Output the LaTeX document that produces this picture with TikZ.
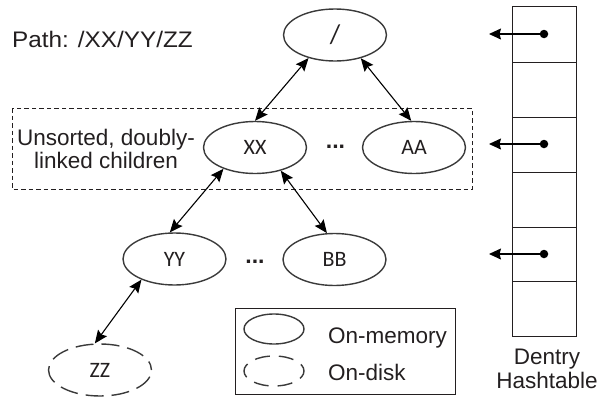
\documentclass[tikz,border=0pt]{standalone}
\usepackage{fontspec}
\setmainfont{Liberation Sans}
\newfontfamily\labelfont{Carlito}
\newfontfamily\pathfont[FakeStretch=1.08]{Liberation Sans}
\usetikzlibrary{shapes.geometric,arrows.meta}
\definecolor{ink}{HTML}{231F20}
\definecolor{edgegray}{HTML}{3A3A3A}
\tikzset{
  mem/.style={ellipse, draw=edgegray, line width=1.4pt, minimum width=103pt,
    minimum height=52pt, inner sep=0pt, text=ink,
    font=\labelfont\fontsize{22}{22}\selectfont},
  disk/.style={mem, dash pattern=on 18pt off 8pt, dash phase=9pt},
  link/.style={{Stealth[length=13pt,width=11pt,inset=2pt]}-{Stealth[length=13pt,width=11pt,inset=2pt]}, line width=1.1pt, black},
  ptr/.style={-{Stealth[length=12pt,width=11pt,inset=1.5pt]}, line width=1.1pt, black},
  txt/.style={text=ink, inner sep=0pt, font=\fontsize{22.5}{23.5}\selectfont},
  ellip/.style={text=ink, inner sep=0pt, font=\bfseries\fontsize{23}{23}\selectfont},
  bucketdot/.style={circle, fill=black, inner sep=0pt, minimum size=8.5pt},
  smallmem/.style={ellipse, draw=edgegray, line width=1.4pt, minimum width=60pt,
    minimum height=30pt, inner sep=0pt},
  smalldisk/.style={smallmem, dash pattern=on 15pt off 9pt, dash phase=7.5pt},
}
\begin{document}
\begin{tikzpicture}[x=1pt,y=-1pt]
\useasboundingbox (0,0) rectangle (598,399);

% path caption
\node[txt, anchor=base west, font=\pathfont\fontsize{22.5}{23.5}\selectfont] (path) at (12,47) {Path: /XX/YY/ZZ};

% group of sibling entries
\draw[ink, line width=0.8pt, dash pattern=on 4.5pt off 3pt] (12,108) rectangle (472,189);
\node[txt, align=center] (sib) at (106,149) {Unsorted, doubly-\\linked children};

% directory tree
\node[mem, font=\labelfont\fontsize{27}{27}\selectfont] (root) at (335,35) {/};
\node[mem] (xx) at (255,147.5) {XX};
\node[mem] (aa) at (414,147.5) {AA};
\node[mem] (yy) at (174.5,259) {YY};
\node[mem] (bb) at (334.5,259.5) {BB};
\node[disk] (zz) at (100,370) {ZZ};
\node[ellip, anchor=base] (dots1) at (335.5,148.5) {...};
\node[ellip, anchor=base] (dots2) at (255,263) {...};

\draw[link] (root.221) -- (xx.north);
\draw[link] (root.318) -- (aa.96);
\draw[link] (xx.214) -- (yy.100);
\draw[link] (xx.318) -- (bb.106);
\draw[link] (yy.212) -- (zz.101);

% legend
\draw[ink, line width=0.9pt] (235,308) rectangle (455,394);
\node[smallmem] (lmem) at (274,329) {};
\node[smalldisk] (ldisk) at (274,371) {};
\node[txt, anchor=base west] (lmemtxt) at (328,343) {On-memory};
\node[txt, anchor=base west] (ldisktxt) at (328,380) {On-disk};

% dentry hash table
\draw[ink, line width=0.9pt] (512,6) rectangle (576,336);
\foreach \yy in {62,117,172,227,281} \draw[ink, line width=0.9pt] (512,\yy) -- (576,\yy);
\node[bucketdot] (b1) at (544,34) {};
\node[bucketdot] (b2) at (544,144) {};
\node[bucketdot] (b3) at (544,254) {};
\coordinate (t1) at (489,34);
\coordinate (t2) at (489,144);
\coordinate (t3) at (489,254);
\draw[ptr] (b1.center) -- (t1);
\draw[ptr] (b2.center) -- (t2);
\draw[ptr] (b3.center) -- (t3);
\node[txt, align=center] (htlabel) at (547,369) {Dentry\\Hashtable};
\end{tikzpicture}
\end{document}
